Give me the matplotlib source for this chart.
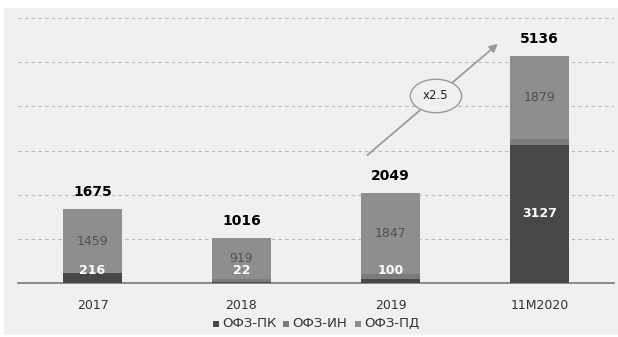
import matplotlib.pyplot as plt
from matplotlib.patches import Rectangle
import numpy as np

# data
years = ['2017', '2018', '2019', '11M2020']
ofz_pk = [216, 22, 100, 3127]
ofz_in = [0, 75, 102, 130]
ofz_pd = [1459, 919, 1847, 1879]
totals = [1675, 1016, 2049, 5136]
series_names = ['ОФЗ-ПК', 'ОФЗ-ИН', 'ОФЗ-ПД']

col_pk = '#474747'
col_in = '#7b7b7b'
col_pd = '#8e8e8e'
panel = '#f0f0f0'
colors = [col_pk, col_in, col_pd]

fig = plt.figure(figsize=(6.18, 3.37), dpi=100)
fig.patch.set_facecolor('white')
fig.patches.append(Rectangle((4 / 618, 2 / 337), 614 / 618, 327 / 337,
                             transform=fig.transFigure, facecolor=panel,
                             edgecolor='none', zorder=-10))

ax = fig.add_axes([18 / 618, 1 - 283 / 337, 596 / 618, 265 / 337])
ax.set_facecolor('none')

x = np.arange(len(years))
w = 0.4
pk = np.array(ofz_pk)
inn = np.array(ofz_in)
pd_ = np.array(ofz_pd)

ax.bar(x, pk, w, color=col_pk, zorder=3)
ax.bar(x, inn, w, bottom=pk, color=col_in, zorder=3)
ax.bar(x, pd_, w, bottom=pk + inn, color=col_pd, zorder=3)

ax.set_xlim(-0.5, 3.5)
ax.set_ylim(0, 6000)
ax.set_yticks(np.arange(1000, 6001, 1000))
ax.yaxis.grid(True, linestyle=(0, (3, 3)), color='#b8b8b8', linewidth=0.8)
ax.tick_params(axis='y', left=False, labelleft=False)
ax.tick_params(axis='x', bottom=False, labelsize=9, labelcolor='#333333', pad=8)
ax.set_xticks(x)
ax.set_xticklabels(years)
for s in ['top', 'right', 'left']:
    ax.spines[s].set_visible(False)
ax.spines['bottom'].set_color('#777777')
ax.spines['bottom'].set_linewidth(1.2)

# value labels
for i in range(len(years)):
    ax.text(x[i], max(pk[i] / 2, 290), str(pk[i]), ha='center', va='center',
            color='white', fontsize=9, fontweight='bold', zorder=5)
    ax.text(x[i], pk[i] + inn[i] + pd_[i] / 2, str(pd_[i]), ha='center',
            va='center', color='#505050', fontsize=9, zorder=5)
    ax.annotate(str(totals[i]), (x[i], totals[i]), xytext=(0, 12),
                textcoords='offset points', ha='center', va='center',
                fontsize=10, fontweight='bold', color='black',
                annotation_clip=False)

# growth arrow
ax.annotate('', xy=(2.735, 5457), xytext=(1.83, 2853),
            arrowprops=dict(arrowstyle='-|>', color='#9a9a9a', lw=1.3,
                            mutation_scale=12), zorder=4)
ax.text(2.305, 4234, 'x2.5', ha='center', va='center', fontsize=8.5,
        color='#222222', zorder=6,
        bbox=dict(boxstyle='ellipse,pad=0.45', facecolor=panel,
                  edgecolor='#9a9a9a', linewidth=1.0))

# legend drawn by hand so the labels share one baseline
leg_x = [213, 283, 355]
leg_y = 1 - 327 / 337
for lx, name, c in zip(leg_x, series_names, colors):
    fig.patches.append(Rectangle((lx / 618, leg_y), 6 / 618, 6 / 337,
                                 transform=fig.transFigure, facecolor=c,
                                 edgecolor='none'))
    fig.text((lx + 9) / 618, leg_y, name, fontsize=9.5, color='#333333',
             ha='left', va='baseline')

fig.savefig('out.png', dpi=100, facecolor=fig.get_facecolor())
